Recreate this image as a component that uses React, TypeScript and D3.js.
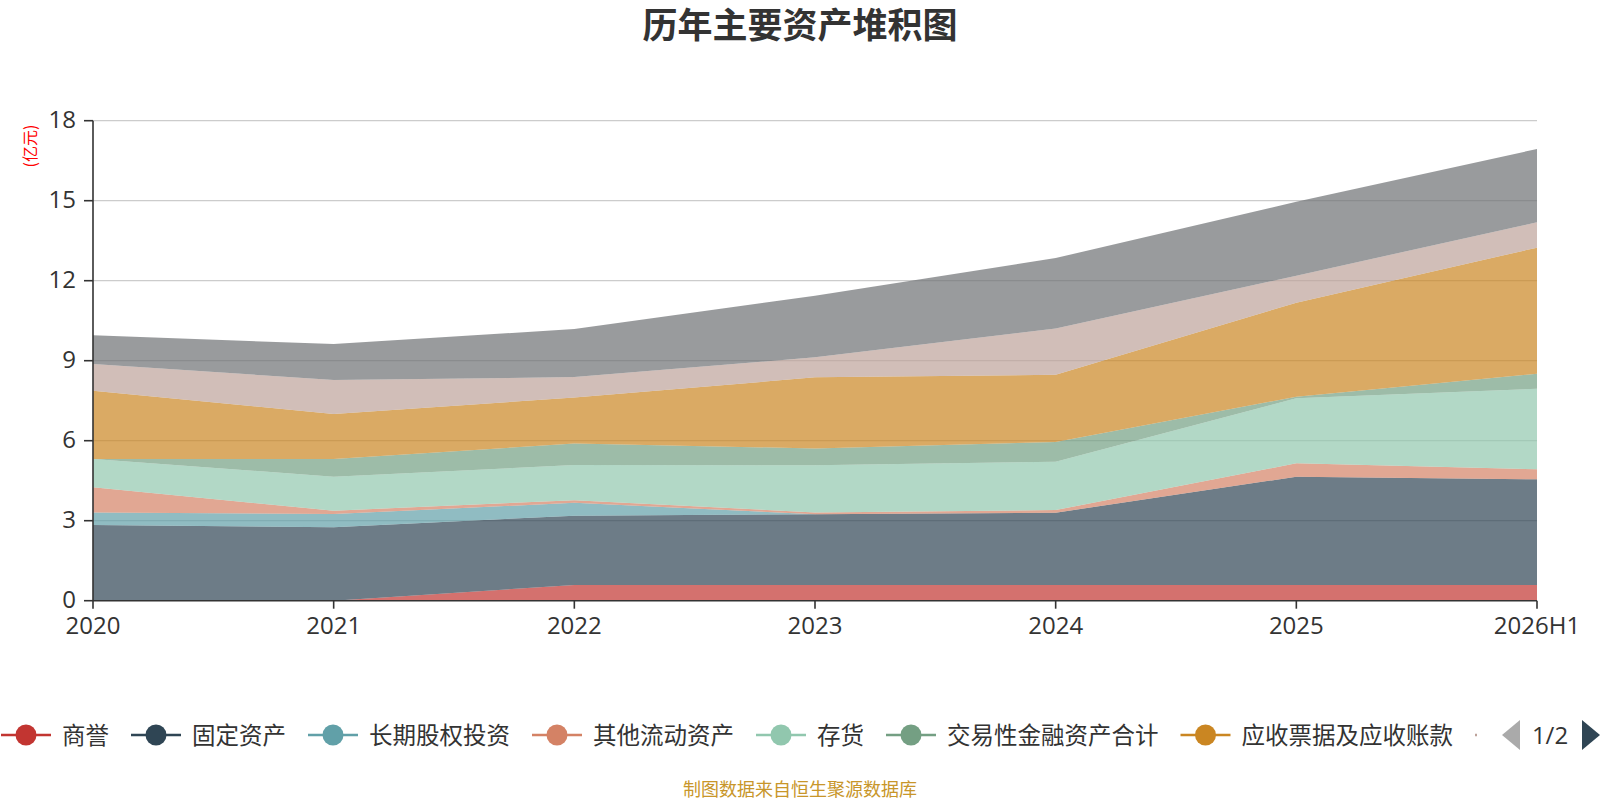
import React from "react";
import * as d3 from "d3";

const years = ["2020", "2021", "2022", "2023", "2024", "2025", "2026H1"];
const seriesNames = [
  "商誉",
  "固定资产",
  "长期股权投资",
  "其他流动资产",
  "存货",
  "交易性金融资产合计",
  "应收票据及应收账款",
  "无形资产",
  "货币资金",
];
const goodwill = [0, 0, 0.59, 0.59, 0.59, 0.59, 0.59];
const fixedAssets = [2.84, 2.75, 2.6, 2.65, 2.71, 4.06, 3.96];
const longTermEquity = [0.47, 0.5, 0.48, 0, 0, 0, 0];
const otherCurrent = [0.94, 0.125, 0.1, 0.07, 0.1, 0.5, 0.375];
const inventory = [1.06, 1.275, 1.315, 1.765, 1.81, 2.44, 3.025];
const tradingFinancial = [0, 0.66, 0.81, 0.635, 0.74, 0.06, 0.56];
const receivables = [2.565, 1.69, 1.725, 2.665, 2.52, 3.525, 4.73];
const intangible = [1.0, 1.275, 0.765, 0.75, 1.74, 1.015, 0.95];
const cash = [1.075, 1.35, 1.8, 2.315, 2.64, 2.77, 2.75];
const yTicks = [0, 3, 6, 9, 12, 15, 18];
const colors = [
  "#c23531",
  "#2f4554",
  "#61a0a8",
  "#d48265",
  "#91c7ae",
  "#749f83",
  "#ca8622",
  "#bda29a",
  "#6e7074",
];

const allSeries = [
  goodwill,
  fixedAssets,
  longTermEquity,
  otherCurrent,
  inventory,
  tradingFinancial,
  receivables,
  intangible,
  cash,
];

const W = 1600;
const H = 800;
const cjk = '"Noto Sans CJK SC", "Noto Sans", sans-serif';
const num = '"Open Sans", "Noto Sans", sans-serif';

export default function App() {
  const x = d3.scalePoint<string>().domain(years).range([93, 1537]);
  const y = d3.scaleLinear().domain([0, 18]).range([600.7, 120.7]);

  const table = years.map((yr, i) => {
    const row: Record<string, any> = { year: yr };
    seriesNames.forEach((n, k) => (row[n] = allSeries[k][i]));
    return row;
  });
  const stacked = d3.stack<any>().keys(seriesNames)(table);
  const area = d3
    .area<any>()
    .x((d) => x(d.data.year) as number)
    .y0((d) => y(d[0]))
    .y1((d) => y(d[1]));

  // legend layout
  const fs = 23.5;
  const legendY = 735;
  const legendItems: { name: string; color: string; x: number }[] = [];
  let cx = 1;
  seriesNames.slice(0, 8).forEach((n, i) => {
    legendItems.push({ name: n, color: colors[i], x: cx });
    cx += 61 + n.length * fs + 22;
  });
  const clipW = legendItems[7].x + 2;

  return (
    <div style={{ position: "absolute", left: 0, top: 0, width: W, height: H }}>
      <svg width={W} height={H} viewBox={`0 0 ${W} ${H}`}>
        <rect width={W} height={H} fill="#fff" />
        <defs>
          <clipPath id="legendClip">
            <rect x={0} y={700} width={clipW} height={70} />
          </clipPath>
        </defs>
        <text
          x={800}
          y={38}
          textAnchor="middle"
          fontFamily={cjk}
          fontWeight="bold"
          fontSize={35}
          fill="#333"
        >
          历年主要资产堆积图
        </text>

        {/* grid */}
        {yTicks.map((t) =>
          t === 0 ? null : (
            <line
              key={t}
              x1={x(years[0])}
              x2={x(years[years.length - 1])}
              y1={y(t)}
              y2={y(t)}
              stroke="#ccc"
              strokeWidth={1.2}
            />
          )
        )}

        {/* areas */}
        {stacked.map((s, i) => (
          <path key={s.key} d={area(s) as string} fill={colors[i]} fillOpacity={0.7} />
        ))}

        {/* y axis */}
        <line x1={93} x2={93} y1={y(18)} y2={y(0)} stroke="#333" strokeWidth={1.6} />
        {yTicks.map((t) => (
          <g key={t}>
            <line x1={84} x2={93} y1={y(t)} y2={y(t)} stroke="#333" strokeWidth={1.6} />
            <text
              x={76}
              y={y(t)}
              dy="0.3em"
              textAnchor="end"
              fontFamily={num}
              fontSize={24}
              fill="#333"
            >
              {t}
            </text>
          </g>
        ))}
        <text
          transform={`translate(36,146) rotate(-90)`}
          textAnchor="middle"
          fontFamily={cjk}
          fontSize={16}
          fill="#ff0000"
        >
          (亿元)
        </text>

        {/* x axis */}
        <line
          x1={x(years[0])}
          x2={x(years[years.length - 1])}
          y1={y(0)}
          y2={y(0)}
          stroke="#333"
          strokeWidth={1.6}
        />
        {years.map((yr) => (
          <g key={yr}>
            <line
              x1={x(yr)}
              x2={x(yr)}
              y1={y(0)}
              y2={y(0) + 8}
              stroke="#333"
              strokeWidth={1.6}
            />
            <text
              x={x(yr)}
              y={634}
              textAnchor="middle"
              fontFamily={num}
              fontSize={24}
              fill="#333"
            >
              {yr}
            </text>
          </g>
        ))}

        {/* legend */}
        <g clipPath="url(#legendClip)">
          {legendItems.map((it) => (
            <g key={it.name}>
              <line
                x1={it.x}
                x2={it.x + 50}
                y1={legendY}
                y2={legendY}
                stroke={it.color}
                strokeWidth={2.5}
              />
              <circle cx={it.x + 25} cy={legendY} r={10.5} fill={it.color} />
              <text
                x={it.x + 61}
                y={legendY + 8.5}
                fontFamily={cjk}
                fontSize={fs}
                fill="#333"
              >
                {it.name}
              </text>
            </g>
          ))}
        </g>
        {/* pager */}
        <path d="M1502,735 L1520,720 L1520,750 Z" fill="#aaa" />
        <text x={1550} y={744} textAnchor="middle" fontFamily={num} fontSize={24} fill="#333">
          1/2
        </text>
        <path d="M1582,720 L1600,735 L1582,750 Z" fill="#2f4554" />

        <text
          x={800}
          y={796}
          textAnchor="middle"
          fontFamily={cjk}
          fontSize={18}
          fill="#c8962a"
        >
          制图数据来自恒生聚源数据库
        </text>
      </svg>
    </div>
  );
}
